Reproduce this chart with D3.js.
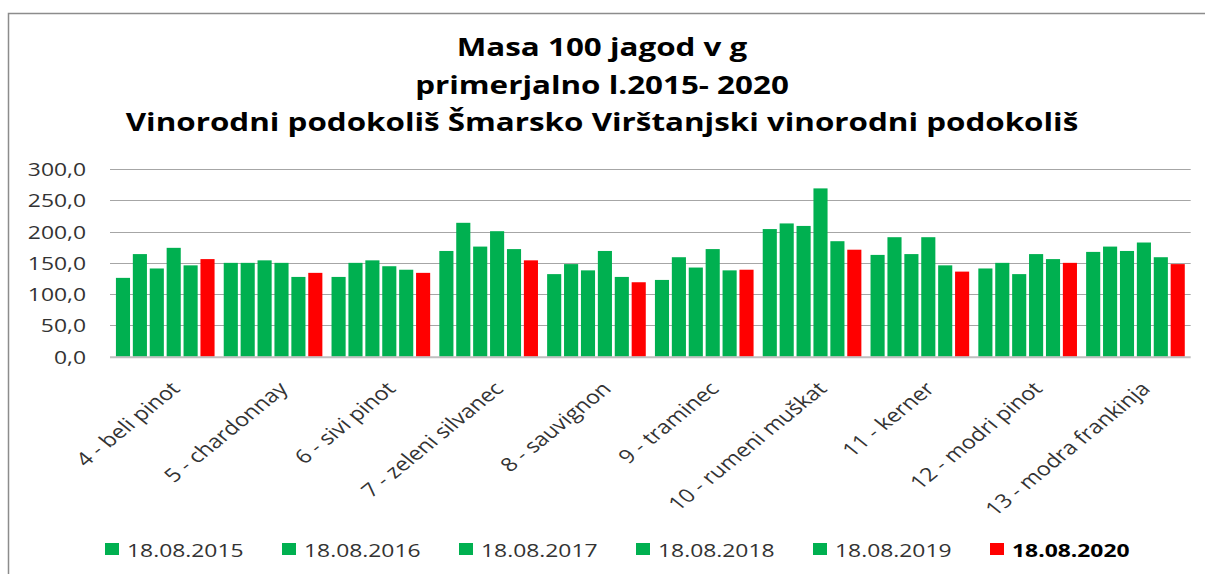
<!DOCTYPE html>
<html>
<head>
<meta charset="utf-8">
<script src="https://cdn.jsdelivr.net/npm/d3@7"></script>
<style>
  body { margin: 0; background: #fff; }
  text { font-family: "Open Sans", sans-serif; }
</style>
</head>
<body>
<svg id="chart" width="1205" height="574"></svg>
<script>
var categories = ["4 - beli pinot", "5 - chardonnay", "6 - sivi pinot", "7 - zeleni silvanec",
  "8 - sauvignon", "9 - traminec", "10 - rumeni muškat", "11 - kerner", "12 - modri pinot",
  "13 - modra frankinja"];
var seriesNames = ["18.08.2015", "18.08.2016", "18.08.2017", "18.08.2018", "18.08.2019", "18.08.2020"];
var v2015 = [126, 150, 127.5, 169, 132, 122.7, 204, 162.7, 141, 167.5];
var v2016 = [164, 150, 150, 214, 148, 159, 213, 191, 150, 176];
var v2017 = [141, 154, 154, 176, 138, 142.5, 209, 164, 132, 169];
var v2018 = [174, 150, 144.6, 200.6, 169, 172, 269, 191, 164, 182.5];
var v2019 = [146, 127.5, 139, 172, 127.5, 138, 184.6, 146, 156, 159];
var v2020 = [156, 134, 134, 154, 119, 139, 171, 136, 150, 148];
var yTicks = [0, 50, 100, 150, 200, 250, 300];

var values = [v2015, v2016, v2017, v2018, v2019, v2020];
var colors = ["#00b050", "#00b050", "#00b050", "#00b050", "#00b050", "#ff0000"];

// the picture is stretched sideways, so every text gets the same x stretch
var k = 1.23;

var svg = d3.select("#chart");

// outer chart border
svg.append("rect")
  .attr("x", 8.5).attr("y", 13.5)
  .attr("width", 1300).attr("height", 700)
  .attr("fill", "#fff")
  .attr("stroke", "#8c8c8c")
  .attr("stroke-width", 1.5);

var x0 = d3.scaleBand().domain(categories).range([110, 1190.7]).paddingInner(0.059).paddingOuter(0.042);
var x1 = d3.scaleBand().domain(d3.range(seriesNames.length)).range([0, x0.bandwidth()]);
var y = d3.scaleLinear().domain([0, 300]).range([356.7, 169]);

// title
var titleLines = ["Masa 100 jagod v g", "primerjalno l.2015- 2020",
  "Vinorodni podokoliš Šmarsko Virštanjski vinorodni podokoliš"];
var titleY = [56, 93.5, 131];
titleLines.forEach(function (t, i) {
  svg.append("g")
    .attr("transform", "translate(602," + titleY[i] + ") scale(" + k + ",1)")
    .append("text")
    .attr("text-anchor", "middle")
    .style("font-size", "25.5px")
    .style("font-weight", "bold")
    .attr("fill", "#000")
    .text(t);
});

// gridlines
svg.append("g")
  .selectAll("line")
  .data(yTicks.slice(1))
  .enter()
  .append("line")
  .attr("x1", 110).attr("x2", 1190.7)
  .attr("y1", function (d) { return Math.round(y(d)) + 0.5; })
  .attr("y2", function (d) { return Math.round(y(d)) + 0.5; })
  .attr("stroke", "#a6a6a6")
  .attr("stroke-width", 1);

// y tick labels
svg.append("g")
  .selectAll("g")
  .data(yTicks)
  .enter()
  .append("g")
  .attr("transform", function (d) { return "translate(86," + (y(d) + 7) + ") scale(" + k + ",1)"; })
  .append("text")
  .attr("text-anchor", "end")
  .style("font-size", "18.6px")
  .attr("fill", "#333")
  .text(function (d) { return d3.format(".1f")(d).replace(".", ","); });

// bars
var groups = svg.append("g")
  .selectAll("g")
  .data(categories)
  .enter()
  .append("g")
  .attr("transform", function (d) { return "translate(" + x0(d) + ",0)"; });

groups.selectAll("rect")
  .data(function (d, i) {
    return values.map(function (s, j) { return { s: j, v: s[i] }; });
  })
  .enter()
  .append("rect")
  .attr("x", function (d) { return x1(d.s) + 1.4; })
  .attr("width", x1.bandwidth() - 2.8)
  .attr("y", function (d) { return y(d.v); })
  .attr("height", function (d) { return y(0) - y(d.v); })
  .attr("fill", function (d) { return colors[d.s]; });

// axis baseline
svg.append("line")
  .attr("x1", 110).attr("x2", 1190.7)
  .attr("y1", y(0) + 0.5).attr("y2", y(0) + 0.5)
  .attr("stroke", "#bfbfbf")
  .attr("stroke-width", 2);

// category labels
svg.append("g")
  .selectAll("g")
  .data(categories)
  .enter()
  .append("g")
  .attr("transform", function (d) {
    return "translate(" + (x0(d) + x0.bandwidth() / 2 + 16) + ",390) scale(" + k + ",1) rotate(-45)";
  })
  .append("text")
  .attr("text-anchor", "end")
  .style("font-size", "19px")
  .attr("fill", "#333")
  .text(function (d) { return d; });

// legend
var legend = svg.append("g")
  .selectAll("g")
  .data(seriesNames)
  .enter()
  .append("g")
  .attr("transform", function (d, i) { return "translate(" + (105 + i * 177) + ",0)"; });

legend.append("rect")
  .attr("x", 0).attr("y", 543)
  .attr("width", 14).attr("height", 12)
  .attr("fill", function (d, i) { return colors[i]; });

legend.append("g")
  .attr("transform", "translate(22,556.7) scale(" + k + ",1)")
  .append("text")
  .style("font-size", "18.6px")
  .style("font-weight", function (d, i) { return i === 5 ? "bold" : "normal"; })
  .attr("fill", function (d, i) { return i === 5 ? "#000" : "#333"; })
  .text(function (d) { return d; });
</script>
</body>
</html>
